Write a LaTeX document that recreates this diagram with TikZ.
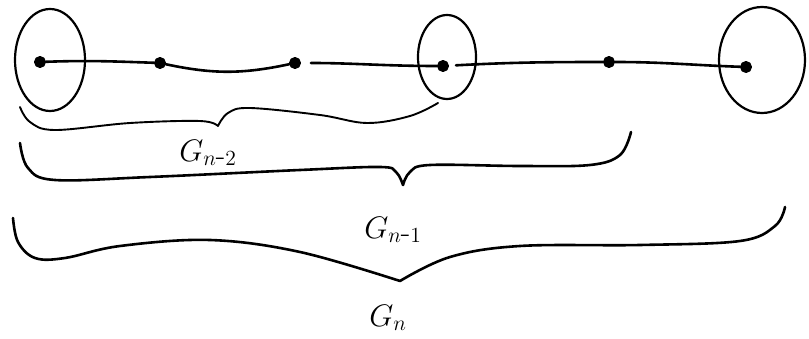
\documentclass[tikz,border=0pt]{standalone}
\usetikzlibrary{shapes.geometric}
\begin{document}
\begin{tikzpicture}[x=1pt,y=-1pt,line cap=round,line join=round,
  ink/.style={line width=2.6pt,black},
  thin ink/.style={line width=1.9pt,black},
  vertex/.style={circle,draw,fill=black,line width=1.8pt,inner sep=3.6pt},
  blob/.style={ellipse,draw,line width=2.2pt,inner sep=0pt},
  lbl/.style={font=\huge,scale=1.5}]
\useasboundingbox (0,0) rectangle (809,339);
% vertices
\node[vertex] (v1) at (40,62) {};
\node[vertex] (v2) at (160,63) {};
\node[vertex] (v3) at (295,63) {};
\node[vertex] (v4) at (443,66) {};
\node[vertex] (v5) at (609,62) {};
\node[vertex] (v6) at (746,67) {};
% enclosing ellipses
\node[blob,minimum width=70pt,minimum height=102pt] (e1) at (50,60) {};
\node[blob,minimum width=58pt,minimum height=84pt] (e2) at (447,57) {};
\node[blob,minimum width=86pt,minimum height=106pt] (e3) at (762,60) {};
% edges
\draw[ink] (v1) to[out=2,in=178] (v2);
\draw[ink] (v2) to[out=-12,in=192] (v3);
\draw[ink,shorten <=10pt] (v3) to[out=0,in=180] (v4);
\draw[ink,shorten <=7pt] (v4) to[out=3,in=180] (v5);
\draw[ink] (v5) to[out=0,in=178] (v6);
% brace G_{n-2}
\draw[thin ink] plot[smooth,tension=0.6] coordinates {(20,107) (30,122) (55,130) (130,123) (200,121) (218,126)};
\draw[thin ink] plot[smooth,tension=0.6] coordinates {(218,126) (228,113) (250,108) (320,115) (367,123) (410,116) (438,103)};
% brace G_{n-1}
\draw[ink] plot[smooth,tension=0.6] coordinates {(20,143) (28,168) (55,180) (150,177) (300,170) (380,167) (396,172) (403,185)};
\draw[ink] plot[smooth,tension=0.6] coordinates {(403,185) (410,172) (430,165) (520,166) (590,165) (620,155) (631,132)};
% brace G_n
\draw[ink] plot[smooth,tension=0.6] coordinates {(13,218) (18,242) (35,258) (65,258) (120,246) (210,240) (300,252) (400,281)};
\draw[ink] plot[smooth,tension=0.6] coordinates {(400,281) (450,257) (520,246) (640,245) (740,241) (775,226) (785,207)};
% labels
\node[lbl] (l1) at (208,153) {$G_{n\mbox{-}2}$};
\node[lbl] (l2) at (393,230) {$G_{n\mbox{-}1}$};
\node[lbl] (l3) at (388,318) {$G_{n}$};
\end{tikzpicture}
\end{document}
